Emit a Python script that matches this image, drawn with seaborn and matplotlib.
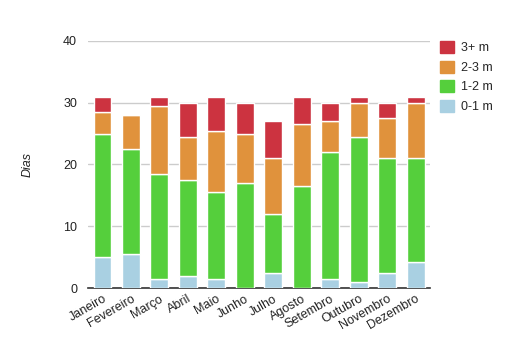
import pandas as pd
import matplotlib
matplotlib.use("Agg")
import matplotlib.pyplot as plt
import seaborn as sns

months = ["Janeiro", "Fevereiro", "Março", "Abril", "Maio", "Junho",
          "Julho", "Agosto", "Setembro", "Outubro", "Novembro", "Dezembro"]
series_names = ["0-1 m", "1-2 m", "2-3 m", "3+ m"]
days_0_1 = [5, 5.5, 1.5, 2, 1.5, 0, 2.5, 0, 1.5, 1, 2.5, 4.2]
days_1_2 = [20, 17, 17, 15.5, 14, 17, 9.5, 16.5, 20.5, 23.5, 18.5, 16.8]
days_2_3 = [3.5, 5.5, 11, 7, 10, 8, 9, 10, 5, 5.5, 6.5, 9]
days_3p = [2.5, 0, 1.5, 5.5, 5.5, 5, 6, 4.5, 3, 1, 2.5, 1]
colors = ["#a9d0e2", "#55cf3c", "#e0923c", "#cc3340"]

sns.set_style("white")
plt.rcParams["font.family"] = ["Liberation Sans", "DejaVu Sans"]

fig = plt.figure(figsize=(5.13, 3.53), dpi=100)
ax = fig.add_axes([0.172, 0.184, 0.666, 0.700])

layers = [days_0_1, days_1_2, days_2_3, days_3p]
bottom = [0] * len(months)
handles = []
for name, vals, col in zip(series_names, layers, colors):
    df = pd.DataFrame({"Mes": months, "Dias": vals})
    sns.barplot(data=df, x="Mes", y="Dias", color=col, saturation=1,
                width=0.63, bottom=bottom, edgecolor="white", linewidth=1,
                ax=ax, errorbar=None, zorder=3)
    handles.append(plt.Rectangle((0, 0), 1, 1, color=col))
    bottom = [b + v for b, v in zip(bottom, vals)]

ax.set_ylim(0, 40)
ax.set_xlim(-0.5, 11.5)
ax.set_yticks([0, 10, 20, 30, 40])
ax.yaxis.grid(True, color="#cccccc", linewidth=1, zorder=0)
ax.set_axisbelow(True)
for s in ["left", "right", "top"]:
    ax.spines[s].set_visible(False)
ax.spines["bottom"].set_color("#333333")
ax.spines["bottom"].set_linewidth(1.2)
ax.tick_params(axis="both", length=0, labelsize=9, colors="#222222")
ax.tick_params(axis="y", pad=8)
plt.setp(ax.get_xticklabels(), rotation=30, ha="right", rotation_mode="anchor")
ax.set_xlabel("")
ax.set_ylabel("Dias", fontsize=9, style="italic", color="#222222", labelpad=21)

ax.legend(handles[::-1], series_names[::-1], loc="upper left",
          bbox_to_anchor=(1.015, 1.02), frameon=False, fontsize=9,
          handlelength=1.1, handleheight=1.1, handletextpad=0.6,
          labelspacing=0.5, borderaxespad=0)

fig.savefig("out.png", dpi=100)
